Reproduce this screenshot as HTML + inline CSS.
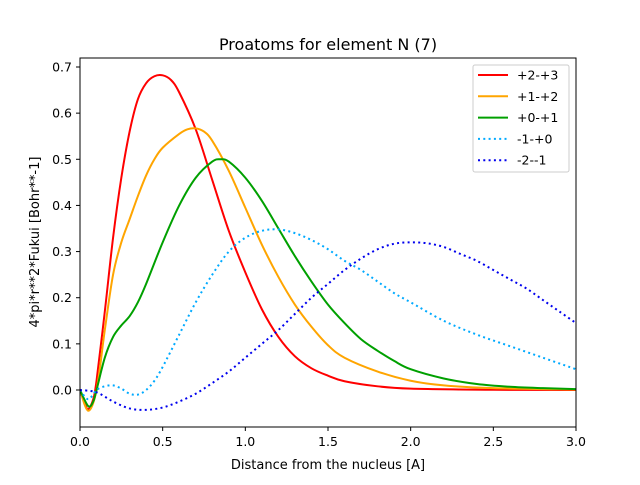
<!DOCTYPE html>
<html><head><meta charset="utf-8"><style>
body{margin:0;background:#fff;}
svg text{font-family:"DejaVu Sans","Liberation Sans",sans-serif;fill:#000;}
</style></head><body>
<svg id="chart" width="640" height="480" xmlns="http://www.w3.org/2000/svg">
<rect width="640" height="480" fill="#fff"/>
<g id="plot"></g>
<rect x="80" y="58" width="496" height="369" fill="none" stroke="#000" stroke-width="1"/>
<text x="328" y="50" font-size="16" text-anchor="middle">Proatoms for element N (7)</text>
<text x="328" y="469" font-size="13" text-anchor="middle">Distance from the nucleus [A]</text>
<text transform="translate(39,242) rotate(-90)" font-size="13" text-anchor="middle">4*pi*r**2*Fukui [Bohr**-1]</text>
<g id="legend">
<rect x="473" y="65" width="96" height="107" fill="#fff" fill-opacity="0.8" stroke="#ccc" rx="2"/>
</g>
</svg>
<script>
const xVals=[0,0.03,0.05,0.08,0.1,0.15,0.2,0.25,0.3,0.35,0.4,0.45,0.5,0.55,0.6,0.7,0.8,0.9,1.0,1.1,1.2,1.3,1.4,1.5,1.6,1.8,2.0,2.5,3.0];
const redVals=[0,-0.03,-0.042,-0.02,0.02,0.17,0.33,0.46,0.56,0.63,0.665,0.68,0.682,0.672,0.645,0.565,0.455,0.345,0.255,0.175,0.115,0.073,0.047,0.031,0.019,0.008,0.003,0.0005,0];
const xOrange=[0,0.05,0.1,0.15,0.2,0.25,0.3,0.35,0.4,0.45,0.5,0.6,0.65,0.7,0.75,0.8,0.9,1.0,1.1,1.2,1.3,1.4,1.5,1.6,1.8,2.0,2.2,2.5,3.0];
const orangeVals=[0,-0.045,0,0.13,0.25,0.32,0.37,0.42,0.465,0.5,0.525,0.555,0.565,0.567,0.56,0.54,0.475,0.395,0.315,0.245,0.185,0.137,0.097,0.07,0.04,0.02,0.01,0.004,0.001];
const xGreen=[0,0.05,0.08,0.1,0.15,0.2,0.25,0.3,0.35,0.4,0.5,0.6,0.7,0.8,0.85,0.9,1.0,1.1,1.2,1.3,1.4,1.5,1.6,1.7,1.8,1.9,2.0,2.2,2.4,2.6,2.8,3.0];
const greenVals=[0,-0.035,-0.025,0,0.07,0.115,0.14,0.16,0.19,0.23,0.32,0.4,0.46,0.495,0.5,0.495,0.46,0.41,0.35,0.29,0.235,0.185,0.145,0.11,0.085,0.063,0.045,0.025,0.013,0.007,0.004,0.002];
const xCyan=[0,0.05,0.1,0.15,0.2,0.25,0.3,0.35,0.4,0.45,0.5,0.6,0.7,0.8,0.9,1.0,1.1,1.2,1.3,1.4,1.5,1.6,1.7,1.8,1.9,2.0,2.2,2.4,2.6,2.8,3.0];
const cyanVals=[0,-0.02,0,0.008,0.01,0.003,-0.008,-0.01,0,0.02,0.05,0.12,0.19,0.25,0.3,0.33,0.345,0.348,0.34,0.325,0.305,0.28,0.26,0.235,0.21,0.19,0.15,0.12,0.095,0.07,0.045];
const xBlue=[0,0.1,0.2,0.3,0.4,0.5,0.6,0.7,0.8,0.9,1.0,1.1,1.2,1.3,1.4,1.5,1.6,1.7,1.8,1.9,2.0,2.1,2.2,2.3,2.4,2.5,2.6,2.7,2.8,2.9,3.0];
const blueVals=[0,-0.005,-0.025,-0.04,-0.043,-0.038,-0.025,-0.008,0.015,0.04,0.07,0.1,0.13,0.165,0.2,0.23,0.26,0.285,0.305,0.317,0.32,0.318,0.31,0.295,0.28,0.26,0.24,0.22,0.195,0.17,0.145];
const xTicks=[0,0.5,1.0,1.5,2.0,2.5,3.0];
const xTickLabels=["0.0","0.5","1.0","1.5","2.0","2.5","3.0"];
const yTicks=[0,0.1,0.2,0.3,0.4,0.5,0.6,0.7];
const yTickLabels=["0.0","0.1","0.2","0.3","0.4","0.5","0.6","0.7"];
const seriesNames=["+2-+3","+1-+2","+0-+1","-1-+0","-2--1"];

const NS="http://www.w3.org/2000/svg";
const sx=v=>80+v*(496/3);
const sy=v=>390-v*(323/0.7);
const plot=document.getElementById('plot');
function mk(tag,attrs,parent){const e=document.createElementNS(NS,tag);for(const k in attrs)e.setAttribute(k,attrs[k]);parent.appendChild(e);return e;}
function smoothPath(xs,ys){
  const p=xs.map((x,i)=>[sx(x),sy(ys[i])]);
  let d=`M${p[0][0]},${p[0][1]}`;
  for(let i=0;i<p.length-1;i++){
    const p0=p[Math.max(0,i-1)],p1=p[i],p2=p[i+1],p3=p[Math.min(p.length-1,i+2)];
    const c1=[p1[0]+(p2[0]-p0[0])/6,p1[1]+(p2[1]-p0[1])/6];
    const c2=[p2[0]-(p3[0]-p1[0])/6,p2[1]-(p3[1]-p1[1])/6];
    d+=` C${c1[0]},${c1[1]} ${c2[0]},${c2[1]} ${p2[0]},${p2[1]}`;
  }
  return d;
}
const cp=mk('clipPath',{id:'clip'},plot);mk('rect',{x:80,y:58,width:496,height:369},cp);
const series=[
 [xVals,redVals,'#ff0000',null,'line-red'],
 [xOrange,orangeVals,'#ffa500',null,'line-orange'],
 [xGreen,greenVals,'#00a000',null,'line-green'],
 [xCyan,cyanVals,'#00aaff','2,3.3','line-cyan'],
 [xBlue,blueVals,'#0000ee','2,3.3','line-blue']];
series.forEach(s=>{
  const e=mk('path',{d:smoothPath(s[0],s[1]),fill:'none',stroke:s[2],'stroke-width':2,'clip-path':'url(#clip)'},plot);
  if(s[3]){e.setAttribute('stroke-dasharray',s[3]);}
  
  
});
xTicks.forEach((t,i)=>{
  const l=mk('line',{x1:sx(t),x2:sx(t),y1:427,y2:431,stroke:'#000'},plot);
  
  
  const tx=mk('text',{x:sx(t),y:446,'font-size':12.5,'text-anchor':'middle'},plot);tx.textContent=xTickLabels[i];
  
  
});
yTicks.forEach((t,i)=>{
  const l=mk('line',{x1:76,x2:80,y1:sy(t),y2:sy(t),stroke:'#000'},plot);
  
  
  const tx=mk('text',{x:72,y:sy(t)+4.5,'font-size':12.5,'text-anchor':'end'},plot);tx.textContent=yTickLabels[i];
  
  
});
const lg=document.getElementById('legend');
series.forEach((s,i)=>{
  const y=75+i*21.3;
  const l=mk('line',{x1:478,x2:508,y1:y,y2:y,stroke:s[2],'stroke-width':2},lg);
  if(s[3]){l.setAttribute('stroke-dasharray',s[3]);}
  
  
  const t=mk('text',{x:517,y:y+4.5,'font-size':12.5},lg);t.textContent=seriesNames[i];
  
  
});
</script>
</body></html>
